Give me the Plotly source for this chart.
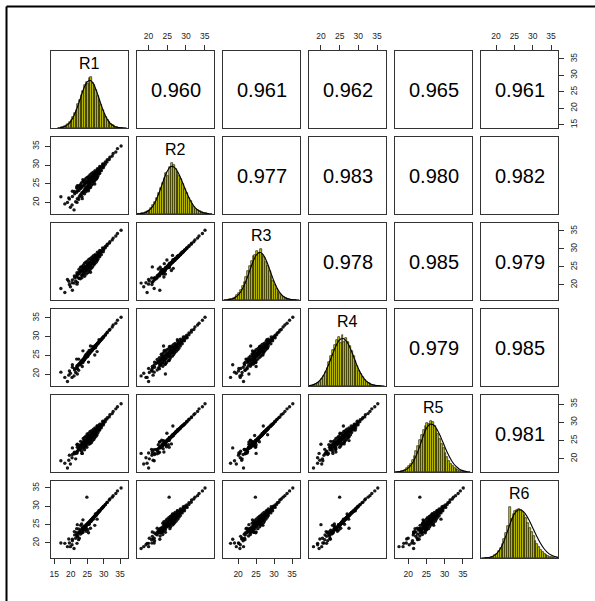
import plotly.graph_objects as go

# ---------------- data ----------------
var_names = ["R1", "R2", "R3", "R4", "R5", "R6"]

# plotted range of each variable (data range + 4%)
range_r1 = [14.0, 37.4]
range_r2 = [16.9, 37.5]
range_r3 = [15.8, 37.2]
range_r4 = [16.8, 37.4]
range_r5 = [16.4, 37.5]
range_r6 = [15.9, 36.9]

ticks_wide = [15, 20, 25, 30, 35]
ticks_std = [20, 25, 30, 35]

# sample values (one entry per probe, same order in each list)
r1 = [18.2, 19.9, 20.4, 19.6, 21.5, 20.5, 22.0, 21.2, 22.6, 21.8,
      22.9, 22.0, 23.3, 22.5, 23.6, 22.8, 23.9, 23.1, 24.2, 23.4,
      24.3, 23.6, 24.6, 24.0, 24.7, 24.2, 25.1, 24.4, 25.3, 24.8,
      25.5, 25.0, 25.6, 25.1, 25.8, 25.4, 26.0, 25.5, 26.1, 25.8,
      26.4, 26.0, 26.6, 26.2, 26.8, 26.4, 26.9, 26.6, 27.2, 26.8,
      27.4, 27.0, 27.7, 27.3, 27.8, 27.6, 28.1, 27.8, 28.4, 28.2,
      28.7, 28.5, 29.1, 28.9, 29.5, 29.4, 30.0, 29.9, 30.5, 30.5,
      31.0, 31.1, 31.7, 31.9, 32.6, 32.9, 33.7, 34.2, 35.3,
      24.0, 25.6, 23.0, 26.8, 24.7, 27.5, 22.4, 25.2, 28.6, 23.7,
      24.9, 17.0, 21.0, 23.5, 20.5, 26.0, 22.0, 28.0, 19.0,
      22.4, 21.1, 23.4, 21.9, 24.2, 22.5, 24.7, 23.0, 25.2, 23.3,
      25.5, 23.8, 25.9, 24.2, 26.3, 24.6, 26.6, 25.0, 27.0, 25.5,
      27.3, 25.9, 27.7, 26.4, 28.0, 26.9, 28.3, 27.4, 28.8, 28.1,
      29.3, 28.8, 29.9, 29.7, 21.9, 19.4, 25.4, 23.7, 27.3, 21.8]
r2 = [19.6, 18.7, 19.3, 20.9, 20.2, 21.6, 21.0, 22.3, 21.5, 22.7,
      22.0, 23.1, 22.4, 23.2, 22.7, 23.7, 23.0, 23.8, 23.3, 24.2,
      23.6, 24.4, 23.8, 24.5, 24.1, 24.9, 24.3, 25.0, 24.6, 25.3,
      24.9, 25.6, 25.1, 25.5, 25.2, 25.9, 25.5, 26.1, 25.7, 26.3,
      25.9, 26.5, 26.1, 26.6, 26.3, 26.9, 26.5, 27.1, 26.7, 27.2,
      26.9, 27.5, 27.2, 27.7, 27.4, 28.0, 27.8, 28.2, 28.0, 28.6,
      28.4, 28.9, 28.7, 29.3, 29.2, 29.7, 29.7, 30.2, 30.2, 30.8,
      30.8, 31.4, 31.5, 32.1, 32.4, 33.1, 33.5, 34.4, 35.1,
      25.5, 24.2, 24.4, 25.6, 23.4, 26.4, 23.9, 26.6, 27.7, 22.6,
      25.5, 21.5, 18.0, 21.0, 23.0, 24.0, 24.5, 26.5, 20.0,
      20.8, 22.9, 21.6, 23.8, 22.3, 24.5, 22.9, 24.8, 23.5, 25.3,
      23.8, 25.7, 24.1, 25.9, 24.6, 26.4, 24.9, 26.7, 25.4, 27.0,
      25.8, 27.4, 26.2, 27.8, 26.7, 28.1, 27.1, 28.5, 27.8, 29.0,
      28.5, 29.6, 29.3, 30.3, 20.0, 21.2, 23.1, 26.1, 24.9, 24.1]
r3 = [17.9, 19.5, 20.6, 20.1, 21.1, 21.4, 20.7, 22.0, 21.8, 22.5,
      21.7, 22.9, 22.6, 23.5, 22.8, 23.3, 23.1, 24.0, 23.5, 23.7,
      24.3, 24.1, 23.9, 24.7, 24.2, 24.6, 24.4, 25.1, 24.8, 25.2,
      24.9, 25.4, 25.0, 25.7, 25.4, 25.8, 25.6, 26.0, 25.7, 26.2,
      26.0, 26.4, 26.1, 26.7, 26.4, 26.8, 26.6, 26.9, 26.8, 27.2,
      27.0, 27.3, 27.4, 27.6, 27.5, 27.9, 27.8, 28.1, 28.2, 28.5,
      28.4, 28.8, 28.9, 29.2, 29.3, 29.6, 29.8, 30.1, 30.3, 30.7,
      30.9, 31.3, 31.6, 32.0, 32.5, 33.0, 33.6, 34.3, 35.2,
      24.8, 25.9, 23.9, 26.0, 24.1, 28.2, 23.0, 24.6, 28.0, 24.4,
      24.8, 19.0, 20.5, 25.0, 18.5, 23.5, 23.0, 27.0, 21.5,
      21.9, 22.5, 22.0, 23.4, 22.4, 24.3, 23.0, 24.9, 23.4, 25.0,
      23.9, 25.5, 24.3, 26.0, 24.7, 26.3, 25.0, 26.6, 25.5, 27.1,
      25.9, 27.3, 26.3, 27.7, 26.7, 28.1, 27.2, 28.4, 27.8, 29.1,
      28.4, 29.6, 29.2, 30.3, 20.2, 21.0, 24.9, 24.0, 26.9, 22.2]
r4 = [19.1, 20.2, 19.1, 20.8, 20.4, 21.8, 21.5, 21.1, 22.4, 21.7,
      22.8, 22.3, 23.1, 22.6, 23.4, 22.9, 23.7, 23.3, 23.9, 23.5,
      24.1, 23.8, 24.5, 24.1, 24.8, 24.3, 24.7, 24.9, 25.2, 24.7,
      25.3, 25.1, 25.5, 25.3, 25.6, 25.5, 25.9, 25.7, 26.2, 25.9,
      26.3, 26.1, 26.5, 26.3, 26.7, 26.5, 27.0, 26.7, 27.1, 26.9,
      27.2, 27.1, 27.6, 27.4, 27.8, 27.7, 28.1, 27.9, 28.3, 28.3,
      28.6, 28.6, 29.0, 29.0, 29.4, 29.4, 29.9, 29.9, 30.4, 30.5,
      31.0, 31.2, 31.7, 31.9, 32.6, 33.1, 33.6, 34.4, 35.2,
      23.6, 26.3, 22.6, 27.4, 25.3, 27.0, 24.0, 25.8, 29.2, 23.1,
      25.0, 20.5, 19.5, 22.0, 22.5, 27.5, 20.0, 26.0, 18.0,
      21.0, 21.4, 23.2, 22.1, 23.9, 22.7, 24.4, 23.1, 24.8, 23.6,
      25.4, 24.0, 25.8, 24.5, 26.1, 24.8, 26.5, 25.2, 26.8, 25.7,
      27.2, 26.1, 27.5, 26.5, 27.9, 26.9, 28.2, 27.5, 28.8, 28.1,
      29.3, 28.9, 29.9, 29.7, 21.5, 19.7, 23.2, 26.2, 25.1, 24.0]
r5 = [18.8, 18.6, 20.3, 21.0, 20.0, 21.2, 22.1, 21.4, 22.5, 21.6,
      22.6, 23.2, 22.1, 23.3, 22.9, 23.6, 23.2, 23.6, 23.1, 24.2,
      23.7, 24.5, 24.0, 24.4, 24.3, 24.8, 24.5, 25.2, 24.6, 25.1,
      25.0, 25.5, 25.2, 25.7, 25.3, 25.8, 25.4, 26.0, 25.8, 26.3,
      25.9, 26.4, 26.2, 26.6, 26.3, 26.9, 26.5, 27.0, 26.7, 27.3,
      26.9, 27.4, 27.3, 27.7, 27.5, 28.0, 27.7, 28.2, 28.1, 28.5,
      28.3, 28.9, 28.8, 29.2, 29.2, 29.6, 29.7, 30.1, 30.2, 30.7,
      30.9, 31.3, 31.5, 32.1, 32.4, 33.0, 33.7, 34.3, 35.1,
      25.0, 24.7, 24.8, 25.9, 23.6, 26.6, 22.8, 26.4, 27.9, 23.9,
      23.2, 19.5, 21.5, 21.5, 23.0, 25.0, 24.0, 29.0, 17.5,
      22.6, 21.8, 21.5, 23.9, 22.5, 23.8, 24.6, 23.3, 25.1, 23.9,
      24.0, 25.6, 24.2, 25.9, 24.5, 26.2, 25.0, 26.8, 25.3, 27.0,
      25.8, 27.5, 26.2, 27.7, 26.6, 28.1, 27.2, 28.5, 27.9, 29.0,
      28.5, 29.5, 29.3, 30.3, 21.6, 19.6, 24.7, 24.1, 27.0, 21.9]
r6 = [19.9, 19.0, 19.5, 20.0, 21.3, 20.6, 21.8, 22.2, 21.3, 22.8,
      22.4, 21.9, 23.0, 22.8, 23.5, 23.0, 23.8, 23.2, 24.0, 23.9,
      23.6, 24.2, 24.4, 23.9, 24.8, 24.4, 25.0, 24.5, 25.1, 24.9,
      25.4, 25.0, 25.6, 25.2, 25.8, 25.3, 26.0, 25.6, 26.2, 25.8,
      26.4, 26.0, 26.6, 26.2, 26.8, 26.4, 26.9, 26.6, 27.2, 26.8,
      27.4, 27.0, 27.6, 27.3, 27.9, 27.6, 28.1, 27.9, 28.4, 28.2,
      28.7, 28.5, 29.1, 28.9, 29.5, 29.4, 30.0, 29.9, 30.4, 30.5,
      31.0, 31.1, 31.7, 32.0, 32.5, 32.9, 33.5, 34.2, 35.0,
      24.6, 25.1, 23.5, 26.5, 24.0, 27.9, 23.8, 25.4, 28.8, 22.9,
      32.5, 20.0, 18.5, 23.0, 21.0, 24.0, 25.0, 26.5, 19.0,
      20.9, 23.1, 22.7, 22.3, 24.0, 22.9, 23.2, 24.8, 23.6, 25.2,
      25.4, 23.9, 25.8, 24.4, 26.0, 24.9, 26.5, 25.2, 26.9, 25.6,
      27.2, 26.0, 27.5, 26.5, 27.9, 27.0, 28.3, 27.5, 28.7, 28.2,
      29.3, 28.8, 29.9, 29.7, 19.9, 21.1, 22.8, 26.3, 24.8, 23.9]

# histogram: bins of width 0.5 starting at 17.0, heights scaled to max 1
hist_start = 17.0
hist_width = 0.5
hist_r1 = [0.01, 0.02, 0.03, 0.05, 0.08, 0.11, 0.16, 0.21, 0.29, 0.36, 0.46, 0.54, 0.65,
           0.72, 0.84, 0.90, 0.86, 0.97, 1.00, 0.88, 0.83, 0.74, 0.63, 0.55, 0.45, 0.36,
           0.28, 0.21, 0.15, 0.11, 0.08, 0.05, 0.03, 0.02, 0.012, 0.007, 0.004, 0.002]
hist_r2 = [0.004, 0.007, 0.011, 0.02, 0.033, 0.05, 0.08, 0.12, 0.17, 0.23, 0.31, 0.41, 0.50,
           0.61, 0.71, 0.80, 0.74, 0.92, 1.00, 0.95, 0.87, 0.82, 0.75, 0.68, 0.58, 0.49,
           0.41, 0.32, 0.25, 0.19, 0.14, 0.10, 0.07, 0.05, 0.033, 0.021, 0.014, 0.008]
hist_r3 = [0.005, 0.01, 0.02, 0.035, 0.06, 0.09, 0.14, 0.20, 0.27, 0.36, 0.45, 0.56, 0.66,
           0.76, 0.85, 0.88, 0.96, 0.92, 1.00, 0.90, 0.84, 0.75, 0.66, 0.56, 0.46, 0.37,
           0.29, 0.22, 0.16, 0.11, 0.075, 0.05, 0.032, 0.02, 0.012, 0.007, 0.004, 0.002]
hist_r4 = [0.004, 0.008, 0.015, 0.03, 0.05, 0.085, 0.13, 0.19, 0.27, 0.36, 0.47, 0.58, 0.70,
           0.80, 0.89, 0.96, 0.84, 1.00, 0.85, 0.94, 0.86, 0.78, 0.68, 0.58, 0.48, 0.39,
           0.30, 0.23, 0.17, 0.12, 0.085, 0.057, 0.037, 0.023, 0.014, 0.008, 0.005, 0.003]
hist_r5 = [0.003, 0.006, 0.012, 0.022, 0.04, 0.07, 0.11, 0.16, 0.23, 0.31, 0.41, 0.51, 0.62,
           0.72, 0.82, 0.89, 0.95, 0.93, 1.00, 0.97, 0.90, 0.83, 0.74, 0.65, 0.55, 0.46,
           0.37, 0.29, 0.22, 0.16, 0.12, 0.08, 0.055, 0.035, 0.022, 0.013, 0.008, 0.004]
hist_r6 = [0.002, 0.004, 0.008, 0.015, 0.028, 0.05, 0.085, 0.13, 0.19, 0.27, 0.37, 0.49, 0.62,
           1.00, 0.76, 0.86, 0.92, 0.94, 0.95, 0.93, 0.90, 0.84, 0.77, 0.68, 0.59, 0.50,
           0.42, 0.34, 0.27, 0.21, 0.16, 0.115, 0.08, 0.055, 0.036, 0.022, 0.012, 0.006]

# density curves (same scale as histograms)
dens_x = [16, 17, 18, 19, 20, 21, 22, 23, 24, 25, 26, 27, 28, 29, 30, 31, 32, 33, 34, 35, 36, 37]
dens_r1 = [0.003, 0.010, 0.026, 0.062, 0.130, 0.243, 0.403, 0.593, 0.775, 0.899, 0.926,
           0.847, 0.688, 0.496, 0.318, 0.181, 0.091, 0.041, 0.016, 0.006, 0.002, 0.001]
dens_r2 = [0.001, 0.003, 0.008, 0.025, 0.064, 0.140, 0.270, 0.451, 0.658, 0.835, 0.926,
           0.903, 0.793, 0.628, 0.447, 0.287, 0.166, 0.086, 0.041, 0.018, 0.007, 0.002]
dens_r3 = [0.002, 0.005, 0.016, 0.041, 0.094, 0.189, 0.335, 0.524, 0.721, 0.872, 0.930,
           0.880, 0.740, 0.550, 0.360, 0.210, 0.110, 0.050, 0.020, 0.008, 0.003, 0.001]
dens_r4 = [0.003, 0.010, 0.027, 0.064, 0.135, 0.250, 0.410, 0.598, 0.778, 0.900, 0.925,
           0.855, 0.705, 0.520, 0.340, 0.200, 0.104, 0.049, 0.021, 0.008, 0.003, 0.001]
dens_r5 = [0.001, 0.004, 0.012, 0.032, 0.075, 0.155, 0.285, 0.465, 0.670, 0.850, 0.930,
           0.915, 0.820, 0.670, 0.500, 0.340, 0.210, 0.118, 0.060, 0.027, 0.011, 0.004]
dens_r6 = [0.001, 0.003, 0.010, 0.030, 0.075, 0.160, 0.300, 0.490, 0.700, 0.860, 0.935,
           0.930, 0.860, 0.740, 0.590, 0.440, 0.300, 0.190, 0.110, 0.058, 0.027, 0.011]

# correlations shown in the upper panels
corr_r1 = [0.960, 0.961, 0.962, 0.965, 0.961]   # with R2..R6
corr_r2 = [0.977, 0.983, 0.980, 0.982]          # with R3..R6
corr_r3 = [0.978, 0.985, 0.979]                 # with R4..R6
corr_r4 = [0.979, 0.985]                        # with R5, R6
corr_r5 = [0.981]                               # with R6

# ---------------- build ----------------
values = [r1, r2, r3, r4, r5, r6]
ranges = [range_r1, range_r2, range_r3, range_r4, range_r5, range_r6]
hists = [hist_r1, hist_r2, hist_r3, hist_r4, hist_r5, hist_r6]
dens = [dens_r1, dens_r2, dens_r3, dens_r4, dens_r5, dens_r6]
corrs = [corr_r1, corr_r2, corr_r3, corr_r4, corr_r5]

W, H = 595, 601
P0, PS, STEP = 51, 77, 86
FONT = "Liberation Sans, Arial, Helvetica, sans-serif"
LINEC = "#333333"

fig = go.Figure()
layout = dict(
    width=W, height=H, margin=dict(l=0, r=0, t=0, b=0),
    paper_bgcolor="white", plot_bgcolor="white", showlegend=False,
    font=dict(family=FONT, color="#000000"),
)
annotations = []


def ax_id(n):
    return "" if n == 1 else str(n)


for i in range(6):
    for j in range(6):
        n = i * 6 + j + 1
        sid = ax_id(n)
        x0 = (P0 + STEP * j) / W
        x1 = (P0 + STEP * j + PS) / W
        y1 = 1 - (P0 + STEP * i) / H
        y0 = 1 - (P0 + STEP * i + PS) / H
        xa = dict(domain=[x0, x1], anchor="y" + sid, range=ranges[j],
                  showgrid=False, zeroline=False, showline=True, mirror=True,
                  linecolor=LINEC, linewidth=1, ticks="", showticklabels=False,
                  fixedrange=True)
        ya_range = [0, 1.5] if i == j else ranges[i]
        ya = dict(domain=[y0, y1], anchor="x" + sid, range=ya_range,
                  showgrid=False, zeroline=False, showline=True, mirror=True,
                  linecolor=LINEC, linewidth=1, ticks="", showticklabels=False,
                  fixedrange=True)
        tick_common = dict(ticks="outside", ticklen=5, tickwidth=1, tickcolor=LINEC,
                           showticklabels=True, ticklabelstandoff=3,
                           tickfont=dict(size=8.5, color="#222222", family=FONT))
        if i == 0 and j in (1, 3, 5):
            xa.update(tick_common, side="top", tickvals=ticks_std)
        if i == 5 and j in (0, 2, 4):
            xa.update(tick_common, side="bottom",
                      tickvals=ticks_wide if j == 0 else ticks_std)
        if j == 5 and i in (0, 2, 4):
            ya.update(tick_common, side="right", tickangle=-90,
                      tickvals=ticks_wide if i == 0 else ticks_std)
        if j == 0 and i in (1, 3, 5):
            ya.update(tick_common, side="left", tickangle=-90, tickvals=ticks_std)
        layout["xaxis" + sid] = xa
        layout["yaxis" + sid] = ya

        if i == j:
            centers = [hist_start + hist_width * (k + 0.5) for k in range(len(hists[i]))]
            fig.add_trace(go.Bar(
                x=centers, y=hists[i], width=hist_width,
                marker=dict(color="#CDCD00", line=dict(color="#000000", width=0.6)),
                xaxis="x" + sid, yaxis="y" + sid, hoverinfo="skip"))
            fig.add_trace(go.Scatter(
                x=dens_x, y=dens[i], mode="lines",
                line=dict(color="#000000", width=1.1, shape="spline"),
                xaxis="x" + sid, yaxis="y" + sid, hoverinfo="skip"))
            annotations.append(dict(
                text=var_names[i], x=0.5, y=0.835,
                xref="x" + sid + " domain", yref="y" + sid + " domain",
                showarrow=False, xanchor="center", yanchor="middle",
                font=dict(size=16, family=FONT, color="#000000")))
        elif i > j:
            fig.add_trace(go.Scatter(
                x=values[j], y=values[i], mode="markers",
                marker=dict(color="#000000", size=3.4, opacity=0.9, line=dict(width=0)),
                xaxis="x" + sid, yaxis="y" + sid, hoverinfo="skip"))
        else:
            # empty trace so that the panel and its axes are drawn
            fig.add_trace(go.Scatter(
                x=[None], y=[None], mode="markers",
                xaxis="x" + sid, yaxis="y" + sid, hoverinfo="skip"))
            rv = corrs[i][j - i - 1]
            annotations.append(dict(
                text=f"{rv:.3f}", x=0.5, y=0.5,
                xref="x" + sid + " domain", yref="y" + sid + " domain",
                showarrow=False, xanchor="center", yanchor="middle",
                font=dict(size=20, family=FONT, color="#000000")))

layout["annotations"] = annotations
layout["bargap"] = 0
layout["shapes"] = [
    dict(type="line", xref="paper", yref="paper",
         x0=6.5 / W, x1=1.0, y0=1 - 6.5 / H, y1=1 - 6.5 / H,
         line=dict(color="#000000", width=2)),
    dict(type="line", xref="paper", yref="paper",
         x0=6.5 / W, x1=6.5 / W, y0=0.0, y1=1 - 6.5 / H,
         line=dict(color="#000000", width=2)),
]
fig.update_layout(**layout)
fig.write_html("out.html",
               config={"displayModeBar": False},
               post_script="document.body.style.margin='0';document.body.style.padding='0';")
